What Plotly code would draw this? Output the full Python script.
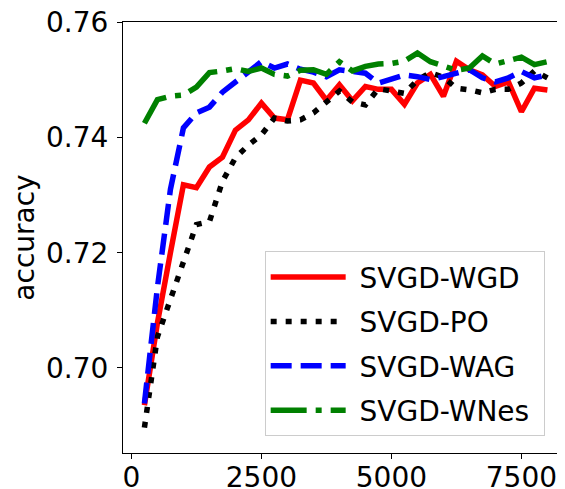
import plotly.graph_objects as go

iterations = [250 * k for k in range(1, 33)]

svgd_wgd = [0.6935, 0.7078, 0.7200, 0.7318, 0.7313, 0.7349, 0.7366, 0.7413,
            0.7431, 0.7460, 0.7434, 0.7431, 0.7500, 0.7495, 0.7465, 0.7492,
            0.7464, 0.7489, 0.7484, 0.7484, 0.7458, 0.7495, 0.7510, 0.7472,
            0.7533, 0.7518, 0.7509, 0.7489, 0.7497, 0.7445, 0.7486, 0.7483]

svgd_po = [0.6896, 0.7054, 0.7119, 0.7183, 0.7249, 0.7254, 0.7324, 0.7365,
           0.7387, 0.7405, 0.7434, 0.7429, 0.7431, 0.7443, 0.7462, 0.7481,
           0.7462, 0.7457, 0.7485, 0.7482, 0.7477, 0.7500, 0.7513, 0.7505,
           0.7486, 0.7483, 0.7478, 0.7484, 0.7484, 0.7495, 0.7516, 0.7504]

svgd_wag = [0.6938, 0.7140, 0.7310, 0.7417, 0.7443, 0.7453, 0.7479, 0.7497,
            0.7513, 0.7532, 0.7521, 0.7528, 0.7519, 0.7514, 0.7506, 0.7518,
            0.7515, 0.7512, 0.7495, 0.7501, 0.7509, 0.7506, 0.7501, 0.7506,
            0.7512, 0.7518, 0.7504, 0.7497, 0.7504, 0.7515, 0.7504, 0.7509]

svgd_wnes = [0.7425, 0.7466, 0.7472, 0.7474, 0.7488, 0.7513, 0.7516, 0.7520,
             0.7515, 0.7521, 0.7510, 0.7507, 0.7517, 0.7518, 0.7510, 0.7532,
             0.7516, 0.7524, 0.7528, 0.7529, 0.7533, 0.7547, 0.7532, 0.7525,
             0.7517, 0.7521, 0.7542, 0.7528, 0.7535, 0.7540, 0.7527, 0.7532]

series_names = ["SVGD-WGD", "SVGD-PO", "SVGD-WAG", "SVGD-WNes"]
x_ticks = [0, 2500, 5000, 7500]
y_ticks = [0.70, 0.72, 0.74, 0.76]

colors = ["#ff0000", "#000000", "#0000ff", "#008000"]
dashes = ["solid", "6px,9px", "21px,9px", "36px,9px,6px,9px"]

fig = go.Figure()
for i, (name, ys) in enumerate(zip(series_names, [svgd_wgd, svgd_po, svgd_wag, svgd_wnes])):
    fig.add_trace(go.Scatter(
        x=iterations, y=ys, mode="lines", name="\u00a0" + name + "\u00a0",
        legendgroup=name,
        line=dict(color=colors[i], width=5.5, dash=dashes[i]),
    ))

font = dict(family="DejaVu Sans", size=28, color="black")
fig.update_layout(
    width=565, height=489,
    margin=dict(l=115, r=8, t=14, b=44, autoexpand=False),
    paper_bgcolor="white", plot_bgcolor="white",
    font=font,
    showlegend=True,
    legend=dict(
        x=0.954, y=0.468, xanchor="right", yanchor="top",
        bgcolor="rgba(255,255,255,0.8)", bordercolor="#cccccc", borderwidth=1,
        font=dict(family="DejaVu Sans", size=28, color="black"),
        itemwidth=75, tracegroupgap=5,
    ),
    xaxis=dict(
        range=[-162, 8338], tickvals=x_ticks, ticks="outside", ticklen=5,
        tickwidth=1.1, tickcolor="black", showline=True, linecolor="black",
        linewidth=1.1, mirror=True, showgrid=False, zeroline=False,
        tickfont=font, automargin=False, ticklabelstandoff=-6,
        ticklabeloverflow="allow",
    ),
    yaxis=dict(
        range=[0.6852, 0.7601], tickvals=y_ticks, tickformat=".2f",
        ticks="outside", ticklen=5, tickwidth=1.1, tickcolor="black",
        showline=True, linecolor="black", linewidth=1.1, mirror=False,
        showgrid=False, zeroline=False, tickfont=font, automargin=False,
        ticklabelstandoff=3, ticklabeloverflow="allow",
        title=dict(text="accuracy", font=font),
    ),
)

fig.write_html("out.html")
